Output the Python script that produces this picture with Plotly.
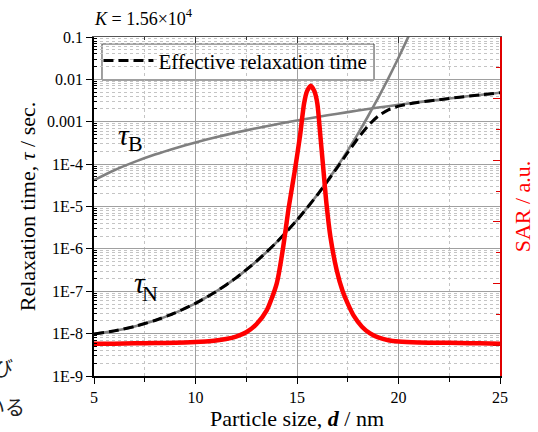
import plotly.graph_objects as go

# ---------------- data ----------------
# Neel relaxation time (s) vs particle size d (nm)
d_neel = [5, 6, 7, 8, 9, 10, 11, 12, 13, 14, 15, 16, 17, 17.5, 18, 18.5, 19, 19.5, 20, 20.5, 21]
tau_neel = [9.8e-9, 1.16e-8, 1.48e-8, 2.04e-8, 3.09e-8, 5.19e-8, 9.75e-8, 2.07e-7, 5.08e-7,
            1.44e-6, 4.80e-6, 1.90e-5, 8.99e-5, 2.11e-4, 5.19e-4, 1.35e-3, 3.68e-3, 1.06e-2,
            3.24e-2, 0.105, 0.359]

# Brownian relaxation time (s)
d_brown = [5, 6, 7, 8, 9, 10, 11, 12, 13, 14, 15, 16, 17, 18, 19, 20, 21, 22, 23, 24, 25]
tau_brown = [4.2e-5, 7.19e-5, 1.13e-4, 1.68e-4, 2.38e-4, 3.25e-4, 4.30e-4, 5.56e-4, 7.04e-4,
             8.76e-4, 1.073e-3, 1.30e-3, 1.55e-3, 1.84e-3, 2.16e-3, 2.51e-3, 2.90e-3, 3.32e-3,
             3.79e-3, 4.29e-3, 4.84e-3]

# Effective relaxation time (s)
d_eff = [5, 6, 7, 8, 9, 10, 11, 12, 13, 14, 15, 16, 17, 17.5, 18, 18.5, 19, 19.5, 20, 20.5,
         21, 22, 23, 24, 25]
tau_eff = [9.8e-9, 1.16e-8, 1.48e-8, 2.04e-8, 3.09e-8, 5.19e-8, 9.75e-8, 2.07e-7, 5.08e-7,
           1.44e-6, 4.78e-6, 1.87e-5, 8.50e-5, 1.88e-4, 4.05e-4, 8.04e-4, 1.36e-3, 1.91e-3,
           2.33e-3, 2.63e-3, 2.88e-3, 3.32e-3, 3.79e-3, 4.29e-3, 4.84e-3]

# SAR (a.u.)
d_sar = [5, 6, 7, 8, 9, 10, 10.5, 11, 11.5, 12, 12.5, 13, 13.5, 14, 14.3, 14.6, 14.9, 15.15,
         15.35, 15.5, 15.68, 15.85, 16.0, 16.15, 16.3, 16.45, 16.65, 16.95, 17.25, 17.5, 17.8,
         18.2, 18.6, 19, 19.5, 20, 21, 22, 23, 24, 25]
sar = [1.05, 1.05, 1.06, 1.07, 1.08, 1.10, 1.12, 1.15, 1.20, 1.28, 1.42, 1.68, 2.12, 3.0, 4.1,
       5.5, 6.7, 7.8, 8.85, 9.25, 9.42, 9.25, 8.85, 7.8, 6.7, 5.6, 4.5, 3.45, 2.75, 2.35, 1.95,
       1.6, 1.38, 1.25, 1.16, 1.12, 1.09, 1.08, 1.07, 1.06, 1.05]

y_tickvals = [1e-9, 1e-8, 1e-7, 1e-6, 1e-5, 1e-4, 1e-3, 1e-2, 1e-1]
y_ticktext = ["1E-9", "1E-8", "1E-7", "1E-6", "1E-5", "1E-4", "0.001", "0.01", "0.1"]

# ---------------- figure ----------------
SERIF = "Liberation Serif"
GRAY = "#808080"

fig = go.Figure()
fig.add_trace(go.Scatter(x=d_brown, y=tau_brown, mode="lines", showlegend=False,
                         line=dict(color=GRAY, width=2.6, shape="spline", smoothing=0.6)))
fig.add_trace(go.Scatter(x=d_neel, y=tau_neel, mode="lines", showlegend=False,
                         line=dict(color=GRAY, width=2.6, shape="spline", smoothing=0.6)))
fig.add_trace(go.Scatter(x=d_eff, y=tau_eff, mode="lines", name="Effective relaxation time",
                         line=dict(color="black", width=3, dash="10px,5px",
                                   shape="spline", smoothing=0.6)))
fig.add_trace(go.Scatter(x=d_sar, y=sar, mode="lines", showlegend=False, yaxis="y2",
                         line=dict(color="#ff0000", width=4.5, shape="spline", smoothing=0.7)))
# dummy trace so the top (mirror) axis is drawn
fig.add_trace(go.Scatter(x=[None], y=[None], xaxis="x2", yaxis="y", showlegend=False,
                         hoverinfo="skip"))

minor_y = [k * 10.0 ** e for e in range(-9, -1) for k in range(2, 10)]

fig.update_layout(
    width=538, height=432,
    margin=dict(l=94, r=38, t=37, b=56, pad=0),
    paper_bgcolor="white", plot_bgcolor="white",
    font=dict(family=SERIF, size=16, color="black"),
    xaxis=dict(
        range=[5, 25], type="linear", tickmode="linear", tick0=5, dtick=5,
        ticks="outside", ticklen=6, tickwidth=1.2, tickcolor="black",
        showline=True, linecolor="black", linewidth=1.5,
        showgrid=True, gridcolor="#a0a0a0", gridwidth=1,
        zeroline=False, automargin=False,
        tickfont=dict(family=SERIF, size=16),
        minor=dict(dtick=2.5, tick0=5, ticks="outside", ticklen=4, tickcolor="black",
                   showgrid=True, gridcolor="#c4c4c4", griddash="dot", gridwidth=1),
        title=dict(text="Particle size, <b><i>d</i></b> / nm",
                   font=dict(family=SERIF, size=22), standoff=4),
    ),
    xaxis2=dict(
        range=[5, 25], type="linear", overlaying="x", side="top", anchor="y",
        tickmode="linear", tick0=5, dtick=5, ticks="inside", ticklen=6, tickcolor="#333",
        showticklabels=False, showline=True, linecolor="#555", linewidth=1.2,
        showgrid=False, zeroline=False, automargin=False,
        minor=dict(dtick=2.5, tick0=5, ticks="inside", ticklen=3, tickcolor="#333"),
    ),
    yaxis=dict(
        type="log", range=[-9, -1],
        tickmode="array", tickvals=y_tickvals, ticktext=y_ticktext,
        ticks="outside", ticklen=6, tickwidth=1.2, tickcolor="black",
        showline=True, linecolor="black", linewidth=1.5,
        showgrid=True, gridcolor="#a0a0a0", gridwidth=1, zeroline=False, automargin=False,
        tickfont=dict(family=SERIF, size=16),
        minor=dict(tickmode="array", tickvals=minor_y, ticks="inside", ticklen=3,
                   tickcolor="black", showgrid=True, gridcolor="#c4c4c4",
                   griddash="dot", gridwidth=1),
        title=dict(text="Relaxation time, <i>τ</i> / sec.",
                   font=dict(family=SERIF, size=22), standoff=5),
    ),
    yaxis2=dict(
        overlaying="y", side="right", range=[0, 11], type="linear",
        tickmode="linear", tick0=1, dtick=2, ticks="inside", ticklen=7, tickwidth=1.3,
        tickcolor="#e00000", showticklabels=False,
        showline=True, linecolor="#e00000", linewidth=1.5,
        showgrid=False, zeroline=False, automargin=False,
        minor=dict(tick0=0, dtick=1, ticks="inside", ticklen=4, tickcolor="#e00000"),
        title=dict(text="SAR / a.u.", font=dict(family=SERIF, size=22, color="#ff0000"),
                   standoff=14),
    ),
    legend=dict(
        x=0.011, y=0.99, xanchor="left", yanchor="top",
        bgcolor="rgba(0,0,0,0)", borderwidth=0,
        font=dict(family=SERIF, size=21), itemwidth=50,
        tracegroupgap=0,
    ),
    showlegend=True,
    shapes=[
        # legend frame
        dict(type="rect", xref="paper", yref="paper", x0=0.0197, x1=0.6897,
             y0=0.8732, y1=0.9794, fillcolor="white",
             line=dict(color="#404040", width=1), layer="between"),
    ],
)

def ann(text, x, y, size, color="black", family=SERIF, xanchor="center"):
    return dict(text=text, xref="paper", yref="paper", x=x, y=y, xanchor=xanchor,
                yanchor="middle", showarrow=False,
                font=dict(family=family, size=size, color=color))

annotations = [
    ann("<i>K</i> = 1.56×10<sup>4</sup>", 0.1207, 1.058, 18),
    ann("<i>τ</i>", 0.0751, 0.712, 30),
    ann("B", 0.1034, 0.6873, 22),
    ann("<i>τ</i>", 0.1133, 0.2745, 30),
    ann("N", 0.1379, 0.243, 22),
    # fragments of surrounding page text at the left edge
    ann("び", -0.1946, 0.0236, 20, color="#222", family="Noto Sans CJK JP", xanchor="right"),
    ann("いる", -0.165, -0.0885, 20, color="#222", family="Noto Sans CJK JP", xanchor="right"),
]
fig.update_layout(annotations=annotations)

fig.write_html("out.html", config={"displayModeBar": False},
               post_script="document.body.style.margin='0';")
